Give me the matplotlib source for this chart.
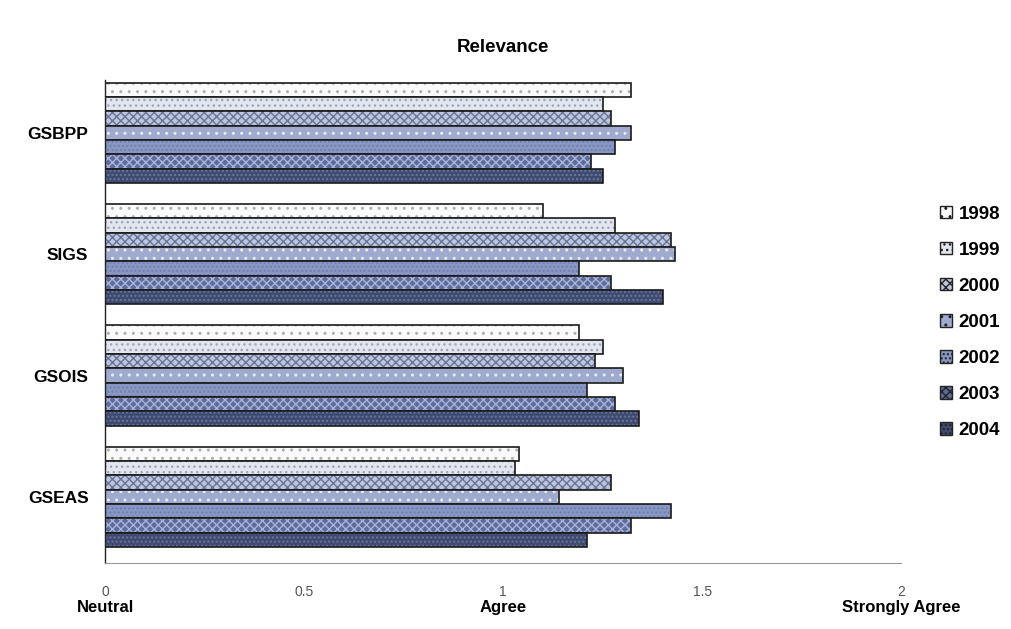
import matplotlib.pyplot as plt
import numpy as np
from matplotlib.patches import Patch

# data
groups = ["GSBPP", "SIGS", "GSOIS", "GSEAS"]
years = ["1998", "1999", "2000", "2001", "2002", "2003", "2004"]
v1998 = [1.32, 1.10, 1.19, 1.04]
v1999 = [1.25, 1.28, 1.25, 1.03]
v2000 = [1.27, 1.42, 1.23, 1.27]
v2001 = [1.32, 1.43, 1.30, 1.14]
v2002 = [1.28, 1.19, 1.21, 1.42]
v2003 = [1.22, 1.27, 1.28, 1.32]
v2004 = [1.25, 1.40, 1.34, 1.21]
series = [v1998, v1999, v2000, v2001, v2002, v2003, v2004]

xticks = [0, 0.5, 1, 1.5, 2]
xtick_labels = ["0", "0.5", "1", "1.5", "2"]
scale_words = {0: "Neutral", 1: "Agree", 2: "Strongly Agree"}

# fill, hatch, hatch colour per year
fills = ["#fafafa", "#e2e6ef", "#bcc6df", "#9eabcf", "#8796c2", "#5d6c9a", "#3f4a6f"]
hatches = ["..", "...", "xxxx", "..", "....", "xxxx", "...."]
hcols = ["#b0b0b0", "#a0a6b8", "#6a7494", "#e8ecf6", "#7080b0", "#a8b4d8", "#6a76a0"]

plt.rcParams['font.family'] = ['Liberation Sans', 'DejaVu Sans']

fig = plt.figure(figsize=(10.12, 6.29), dpi=100)
ax = fig.add_axes([0.1038, 0.105, 0.787, 0.768])

y = np.arange(len(groups))
h = 0.118
for i, vals in enumerate(series):
    pos = y - 3 * h + i * h
    ax.barh(pos, vals, height=h, color=fills[i], hatch=hatches[i],
            edgecolor=hcols[i], linewidth=0)
    ax.barh(pos, vals, height=h, fill=False, edgecolor="#1a1a1a", linewidth=1.2)

ax.set_xlim(0, 2)
ax.set_ylim(3.544, -0.437)
ax.set_yticks(y)
ax.set_yticklabels(groups, fontsize=12.5, fontweight="bold")
ax.tick_params(axis="y", length=0, pad=12)
ax.set_xticks(xticks)
ax.set_xticklabels(xtick_labels, fontsize=10, color="#555555")
ax.tick_params(axis="x", length=0, pad=16)
for s in ["top", "right"]:
    ax.spines[s].set_visible(False)
ax.spines["bottom"].set_color("#999999")
ax.spines["bottom"].set_linewidth(0.8)
ax.spines["left"].set_color("#222222")
ax.spines["left"].set_linewidth(1.0)

for xv, word in scale_words.items():
    ax.annotate(word, xy=(xv, 0), xycoords=("data", "axes fraction"),
                xytext=(0, -27), textcoords="offset points",
                ha="center", va="top", fontsize=12, fontweight="bold")

ax.set_title("Relevance", fontsize=13.5, fontweight="bold", pad=20)

handles = [Patch(facecolor=fills[i], hatch=hatches[i], edgecolor="#222222")
           for i in range(len(years))]
fig.legend(handles, years, loc="upper left", bbox_to_anchor=(0.912, 0.70),
           frameon=False, handlelength=0.65, handleheight=0.65,
           handletextpad=0.35, labelspacing=1.02, prop={"weight": "bold", "size": 13.5})

fig.savefig("out.png", dpi=100)
